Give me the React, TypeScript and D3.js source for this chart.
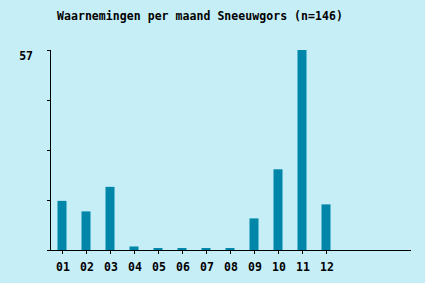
import React from "react";
import * as d3 from "d3";

const months = ["01", "02", "03", "04", "05", "06", "07", "08", "09", "10", "11", "12"];
const counts = [14, 11, 18, 1, 0, 0, 0, 0, 9, 23, 57, 13];
const slots = d3.range(15).map(String);
const yMax = 57;
const yTicks = [0, 14.25, 28.5, 42.75, 57];
const title = "Waarnemingen per maand Sneeuwgors (n=146)";

export default function App() {
  const W = 425, H = 283;
  const left = 50, right = 410, top = 50, bottom = 250;
  const x = d3.scaleBand<string>().domain(slots).range([left, right]);
  const y = d3.scaleLinear().domain([0, yMax]).range([bottom, top]);
  const bw = 9;
  const font = "'DejaVu Sans Mono', monospace";
  return (
    <svg width={W} height={H} style={{ position: "absolute", left: 0, top: 0, display: "block" }}>
      <rect x={0} y={0} width={W} height={H} fill="#C6EEF7" />
      <text x={57} y={20} fontFamily={font} fontWeight="bold" fontSize={11.5} letterSpacing={0.05} fill="#000">{title}</text>
      {months.map((m, i) => {
        const cx = (x(String(i)) as number) + x.bandwidth() / 2;
        const v = counts[i];
        const yt = Math.min(y(v), bottom - 2);
        return (
          <g key={m}>
            <rect x={cx - bw / 2} y={yt} width={bw} height={bottom - yt} fill="#0086A8" />
            <line x1={cx + 0.5} x2={cx + 0.5} y1={bottom} y2={bottom + 4} stroke="#000" strokeWidth={1} />
            <text x={cx + 1} y={271} textAnchor="middle" fontFamily={font} fontWeight="bold" fontSize={11.5} fill="#000">{m}</text>
          </g>
        );
      })}
      {yTicks.map((t) => (
        <line key={t} x1={left - 3} x2={left} y1={Math.round(y(t)) + 0.5} y2={Math.round(y(t)) + 0.5} stroke="#000" strokeWidth={1} />
      ))}
      <line x1={left + 0.5} x2={left + 0.5} y1={top} y2={bottom + 1} stroke="#000" strokeWidth={1} />
      <line x1={left} x2={right + 1} y1={bottom + 0.5} y2={bottom + 0.5} stroke="#000" strokeWidth={1} />
      <text x={33} y={60} textAnchor="end" fontFamily={font} fontWeight="bold" fontSize={11.5} fill="#000">{yMax}</text>
    </svg>
  );
}
